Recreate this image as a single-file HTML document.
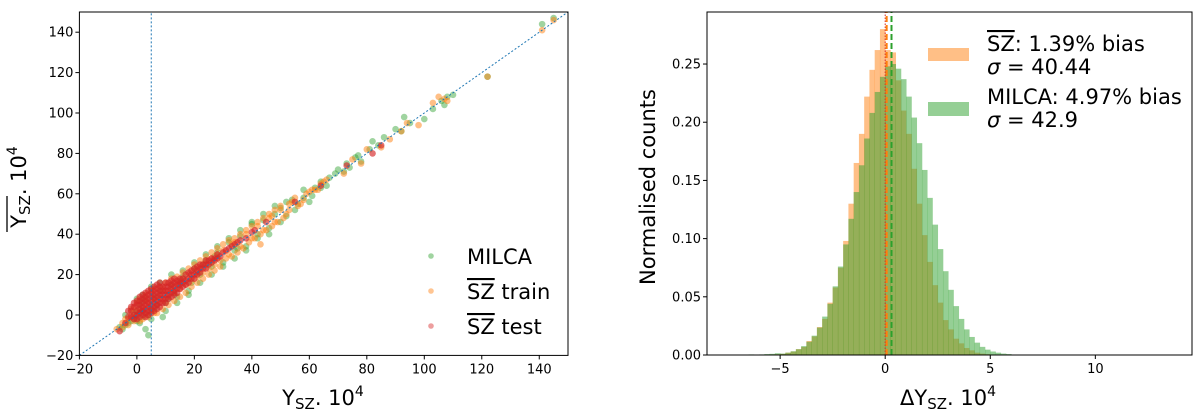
<!DOCTYPE html>
<html><head><meta charset="utf-8"><style>
body{margin:0;background:#fff}
svg{display:block;font-family:"DejaVu Sans","Liberation Sans",sans-serif}
</style></head><body>
<svg id="fig" width="1200" height="416" viewBox="0 0 1200 416"></svg>
<script>
// ---------- Scatter data ----------
const milcaX=[-6,-5,-4,-3,-2,-1,0,1,2,3,4,5,6,8,10,12,14,16,18,20,22,24,26,28,30,32,34,36,38,40,42,44,46,48,50,52,54,56,58,60,62,64,66,70,72,74,76,78,82,84,86,90,92,93,95,100,103,106,107,108,110,122,141,145,9,13,6,2,-1,0,3,11,23,27,35,19,15,7,4,5,
 -4,0,1,2,5,8,10,12,14,16,18,20,22,24,26,28,30,32,34,36,38,40,42,44,46,48,50,52,55,58,61,64,67,69,73,77,81];
const milcaY=[-6,-7,-5,-4,-3,-2,2,5,7,-7,-10,14,3,12,6,15,9,19,12,23,20,27,24,31,26,36,32,39,34,45,40,47,43,50,53,49,57,55,58,56,63,66,64,72,71,73,78,76,86,84,88,92,91,98,95,97,102,106,104,108,109,118,144,147,-1,11,9,-1,1,-3,8,8,25,29,33,16,17,5,0,2,
 0,8,-4,10,-2,16,2,20,6,22,10,26,16,30,20,34,24,38,28,42,32,46,38,50,40,54,46,56,52,62,59,63,68,70,75,79,82];
const trainX=[-7,-5,-3,-2,-1,0,1,2,3,4,5,6,7,8,9,10,11,12,13,14,15,16,17,18,19,20,21,22,23,24,25,26,27,28,29,30,32,34,36,38,40,42,44,46,48,50,52,54,56,58,60,62,64,66,72,75,78,80,85,88,92,94,98,103,105,107,108,122,141,145,43,9,3,1,6,33,47,53,
 -5,-4,-3,-2,-1,0,1,2,3,4,5,6,7,8,9,10,11,12,13,14,15,16,17,18,19,20,21,22,23,24,25,26,27,28,29,30,31,32,33,34,35,36,37,38,39,40,41,42,43,44,45,46,47,48,49,50,51,53,55,57,59,61,63,65];
const trainY=[-7,-4,-2,0,3,0,2,4,1,6,3,8,5,10,7,12,9,14,11,16,13,18,15,20,17,22,19,24,21,26,23,28,25,30,27,32,30,36,34,40,38,44,42,48,46,52,50,56,54,57,61,62,65,67,70,77,75,82,83,87,91,95,94,105,108,107,106,118,141,146,35,13,7,-3,1,35,49,55,
 -6,-2,-5,3,-3,6,8,-2,10,-1,12,13,1,14,3,16,5,18,7,19,9,21,11,23,14,25,16,27,18,29,20,31,22,33,24,35,28,37,29,38,31,40,33,42,36,44,38,46,40,48,42,50,44,52,46,54,48,52,58,55,60,62,62,66];
const testX=[-6,-4,-3,-2,-2,-1,-1,0,0,0,1,1,1,2,2,2,3,3,3,4,4,4,5,5,5,6,6,6,7,7,7,8,8,8,9,9,10,10,11,11,12,12,13,13,14,14,15,15,16,17,17,18,19,20,20,21,22,23,24,25,26,27,28,30,32,34,36,41,45,55,64,73,82,85,2,4,6,8,10,1,3,5,7,9,11,13,
 -3,-2,-1,-1,0,0,1,1,2,2,2,3,3,3,4,4,4,5,5,5,6,6,6,7,7,7,8,8,8,9,9,10,10,10,11,11,12,12,12,13,13,14,14,15,15,16,16,17,18,18,19,19,20,21,21,22,22,23,24,24,25,26,27,28,29,31,33,35,38,40];
const testY=[-8,-4,-1,2,-1,0,4,-2,2,5,-1,3,7,0,4,8,1,5,9,2,6,10,3,7,11,4,8,12,5,9,13,6,10,14,8,12,8,12,10,14,11,15,12,16,13,17,15,18,16,17,20,18,20,20,23,22,23,25,25,27,28,28,30,31,33,35,37,42,46,56,64,74,80,84,2,4,6,8,10,1,3,5,7,10,12,14,
 2,4,-2,6,0,7,5,9,2,6,10,-1,7,11,0,8,12,1,9,13,2,10,14,3,11,15,4,12,16,6,14,6,14,16,8,16,9,13,17,10,18,11,15,13,16,14,18,15,16,21,18,22,18,20,24,21,25,23,23,27,25,26,27,28,29,32,34,36,38,41];
const scatterTicks=[-20,0,20,40,60,80,100,120,140];
// ---------- Histogram data ----------
const binStart=-6.5, binWidth=0.25;
const szCounts=[0,0,0,0.0003,0.0005,0.0007,0.001,0.002,0.003,0.005,0.007,0.012,0.016,0.024,0.031,0.045,0.058,0.075,0.098,0.13,0.165,0.19,0.222,0.245,0.262,0.28,0.262,0.26,0.236,0.21,0.19,0.16,0.13,0.103,0.08,0.06,0.045,0.03,0.022,0.014,0.01,0.006,0.004,0.002,0.0012,0.0007,0.0004,0.0002,0,0,0,0];
const milcaCounts=[0.0005,0.0003,0.0005,0.0008,0.001,0.0015,0.0012,0.002,0.0032,0.005,0.0076,0.0114,0.0166,0.0236,0.033,0.044,0.059,0.076,0.095,0.117,0.14,0.163,0.186,0.208,0.226,0.239,0.248,0.25,0.246,0.237,0.222,0.204,0.182,0.159,0.135,0.112,0.091,0.072,0.056,0.042,0.031,0.022,0.0155,0.0106,0.007,0.0046,0.003,0.002,0.0012,0.0008,0,0];
const histXTicks=[-5,0,5,10];
const histYTicks=[0,0.05,0.10,0.15,0.20,0.25];
const histYLabels=["0.00","0.05","0.10","0.15","0.20","0.25"];
const szMean=0.07, milcaMean=0.3;

const NS="http://www.w3.org/2000/svg";
const svg=document.getElementById('fig');
function mk(tag,attrs,parent){const e=document.createElementNS(NS,tag);for(const k in attrs)e.setAttribute(k,attrs[k]);(parent||svg).appendChild(e);return e;}

// ---------- Left scatter ----------
const L={x0:79.4,x1:568,y0:355.4,y1:12,min:-20,max:150};
const sx=v=>L.x0+(v-L.min)/(L.max-L.min)*(L.x1-L.x0);
const sy=v=>L.y0-(v-L.min)/(L.max-L.min)*(L.y0-L.y1);
const gL=mk('g',{});


const clip=mk('clipPath',{id:'cl'},gL);mk('rect',{x:L.x0,y:L.y1,width:L.x1-L.x0,height:L.y0-L.y1},clip);
function series(xs,ys,color,name,op){
  const g=mk('g',{'clip-path':'url(#cl)'},gL);
  
  
  xs.forEach((x,i)=>{const c=mk('circle',{cx:sx(x),cy:sy(ys[i]),r:3.3,fill:color,'fill-opacity':op},g);
    
    });
}
series(milcaX,milcaY,'#2ca02c','milca-points',0.45);
series(trainX,trainY,'#ff7f0e','sz-train-points',0.5);
series(testX,testY,'#d62728','sz-test-points',0.65);
const diag=mk('line',{x1:sx(-20),y1:sy(-20),x2:sx(150),y2:sy(150),stroke:'#1f77b4','stroke-width':1,'stroke-dasharray':'2,2'},gL);


const vline=mk('line',{x1:sx(5),y1:L.y0,x2:sx(5),y2:L.y1,stroke:'#1f77b4','stroke-width':1,'stroke-dasharray':'2,2'},gL);


mk('rect',{x:L.x0,y:L.y1,width:L.x1-L.x0,height:L.y0-L.y1,fill:'none',stroke:'#000','stroke-width':1},gL);
scatterTicks.forEach(t=>{
  mk('line',{x1:sx(t),y1:L.y0,x2:sx(t),y2:L.y0+4,stroke:'#000'},gL);
  const tx=mk('text',{x:sx(t),y:L.y0+18,'font-size':13,'text-anchor':'middle'},gL);tx.textContent=t<0?'\u2212'+(-t):t;
  
  mk('line',{x1:L.x0-4,y1:sy(t),x2:L.x0,y2:sy(t),stroke:'#000'},gL);
  const ty=mk('text',{x:L.x0-6,y:sy(t)+4.5,'font-size':13,'text-anchor':'end'},gL);ty.textContent=t<0?'\u2212'+(-t):t;
  
});
</script>
<script>
// labels & legend left
(function(){
const g=mk('g',{});


const xl=mk('text',{x:323,y:405,'font-size':21,'text-anchor':'middle'},g);
xl.innerHTML='Y<tspan font-size="15" dy="4">SZ</tspan><tspan dy="-4">. 10</tspan><tspan font-size="14" dy="-9">4</tspan>';

const yl=mk('text',{x:0,y:0,'font-size':21,'text-anchor':'middle',transform:'translate(26,187) rotate(-90)'},g);
yl.innerHTML='Y<tspan font-size="15" dy="4">SZ</tspan><tspan dy="-4">. 10</tspan><tspan font-size="14" dy="-9">4</tspan>';

const ov=mk('line',{x1:7,y1:196,x2:7,y2:232,stroke:'#000','stroke-width':1.3},g);


const leg=[{t:'MILCA',o:'',c:'#2ca02c',y:256},{t:'SZ',o:' train',c:'#ff7f0e',y:291},{t:'SZ',o:' test',c:'#d62728',y:326}];
leg.forEach((d,i)=>{
  const e=mk('g',{},g);
  
  
  mk('circle',{cx:431,cy:d.y,r:2.8,fill:d.c,'fill-opacity':0.45},e);
  const t=mk('text',{x:467,y:d.y+8,'font-size':21},e);
  if(i==0)t.textContent=d.t;else t.innerHTML='<tspan text-decoration="overline">SZ</tspan>'+d.o;
});
})();
// ---------- Right histogram ----------
(function(){
const R={x0:707,x1:1192,y0:355,y1:12,xmin:-8.48,xmax:14.6,ymax:0.2947};
const hx=v=>R.x0+(v-R.xmin)/(R.xmax-R.xmin)*(R.x1-R.x0);
const hy=v=>R.y0-v/R.ymax*(R.y0-R.y1);
const g=mk('g',{});


function hist(arr,color,name){
  const s=mk('g',{},g);
  
  
  arr.forEach((v,i)=>{if(v<=0)return;const a=binStart+i*binWidth;
    const r=mk('rect',{x:hx(a),y:hy(v),width:hx(a+binWidth)-hx(a)+0.3,height:R.y0-hy(v),fill:color,'fill-opacity':0.5},s);
    
    });
}
hist(szCounts,'#ff7f0e','sz-histogram');
hist(milcaCounts,'#2ca02c','milca-histogram');
const z=mk('line',{x1:hx(0),y1:R.y0,x2:hx(0),y2:R.y1,stroke:'#d62728','stroke-width':1,'stroke-dasharray':'1.5,1.5'},g);

const m1=mk('line',{x1:hx(szMean),y1:R.y0,x2:hx(szMean),y2:R.y1,stroke:'#ff7f0e','stroke-width':2,'stroke-dasharray':'6,3'},g);

const m2=mk('line',{x1:hx(milcaMean),y1:R.y0,x2:hx(milcaMean),y2:R.y1,stroke:'#2ca02c','stroke-width':2,'stroke-dasharray':'6,3'},g);

mk('rect',{x:R.x0,y:R.y1,width:R.x1-R.x0,height:R.y0-R.y1,fill:'none',stroke:'#000'},g);
histXTicks.forEach(t=>{
  mk('line',{x1:hx(t),y1:R.y0,x2:hx(t),y2:R.y0+4,stroke:'#000'},g);
  const tx=mk('text',{x:hx(t),y:R.y0+18,'font-size':13,'text-anchor':'middle'},g);tx.textContent=t<0?'\u2212'+(-t):t;
  
});
histYTicks.forEach((t,i)=>{
  mk('line',{x1:R.x0-4,y1:hy(t),x2:R.x0,y2:hy(t),stroke:'#000'},g);
  const ty=mk('text',{x:R.x0-6,y:hy(t)+4.5,'font-size':13,'text-anchor':'end'},g);ty.textContent=histYLabels[i];
  
});
const xl=mk('text',{x:948,y:405,'font-size':21,'text-anchor':'middle'},g);
xl.innerHTML='ΔY<tspan font-size="15" dy="4">SZ</tspan><tspan dy="-4">. 10</tspan><tspan font-size="14" dy="-9">4</tspan>';

const yl=mk('text',{x:0,y:0,'font-size':21,'text-anchor':'middle',transform:'translate(655,187) rotate(-90)'},g);
yl.textContent='Normalised counts';

const lg=mk('g',{},g);


const e1=mk('g',{},lg);


mk('rect',{x:928,y:48,width:41,height:13,fill:'#ff7f0e','fill-opacity':0.5},e1);
const t1=mk('text',{x:987,y:51,'font-size':21},e1);t1.innerHTML='<tspan text-decoration="overline">SZ</tspan>: 1.39% bias';
const t2=mk('text',{x:987,y:74,'font-size':21},e1);t2.innerHTML='<tspan font-style="italic">σ</tspan> = 40.44';
const e2=mk('g',{},lg);


mk('rect',{x:928,y:102,width:41,height:14,fill:'#2ca02c','fill-opacity':0.5},e2);
const t3=mk('text',{x:987,y:104,'font-size':21},e2);t3.textContent='MILCA: 4.97% bias';
const t4=mk('text',{x:987,y:127,'font-size':21},e2);t4.innerHTML='<tspan font-style="italic">σ</tspan> = 42.9';
})();
</script>
</body></html>
